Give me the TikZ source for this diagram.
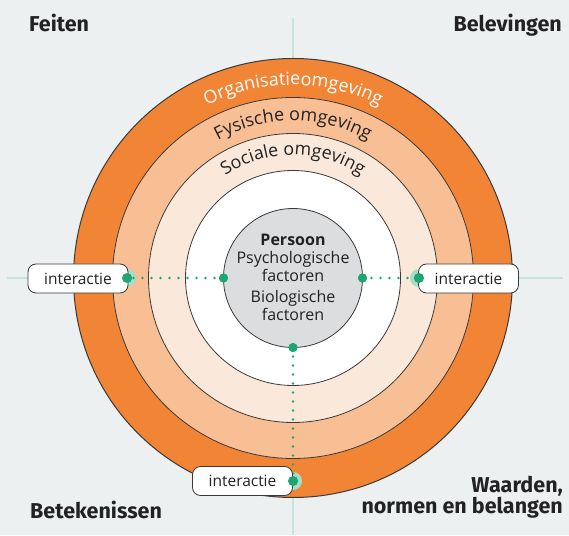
\documentclass[tikz,border=0pt]{standalone}
\usepackage{fontspec}
\setmainfont{Open Sans}
\newfontfamily\cornerfont{Fira Sans}
\usetikzlibrary{decorations.text}
\definecolor{bg}{HTML}{EDF0F1}
\definecolor{orgc}{HTML}{F28535}
\definecolor{fysc}{HTML}{F8BF94}
\definecolor{socc}{HTML}{FAE9DB}
\definecolor{perc}{HTML}{DCDDDF}
\definecolor{axisc}{HTML}{C8E4DB}
\definecolor{greenc}{HTML}{1EA672}
\definecolor{haloc}{HTML}{A8DCC6}
\definecolor{ink}{HTML}{222222}
\definecolor{edge}{HTML}{3A3A3A}
\begin{document}
\begin{tikzpicture}[x=1pt,y=1pt,
  ring/.style={draw=edge,line width=0.8pt},
  axisline/.style={draw=axisc,line width=1.5pt},
  corner/.style={font=\cornerfont\bfseries\fontsize{21.5}{25}\selectfont,text=ink,inner sep=0pt},
  inner/.style={anchor=base,text=ink,inner sep=0pt,font=\fontsize{16}{19}\selectfont},
  ibox/.style={draw=edge,line width=0.8pt,fill=white,rounded corners=8pt,minimum width=100pt,minimum height=29pt,inner sep=0pt,text=ink,font=\fontsize{15.5}{18}\selectfont},
  halo/.style={circle,fill=haloc,minimum size=18pt,inner sep=0pt},
  gdot/.style={circle,fill=greenc,minimum size=10pt,inner sep=0pt},
  gsdot/.style={circle,fill=greenc,minimum size=9pt,inner sep=0pt},
  dotline/.style={draw=greenc,line width=2.6pt,line cap=round,dash pattern=on 0pt off 9pt}]
\useasboundingbox (0,0) rectangle (569,535);
\fill[bg] (0,0) rectangle (569,535);
\coordinate (C) at (293,257);
\coordinate (vt) at (293,517);
\coordinate (vb) at (293,0);
\coordinate (hl) at (7,257);
\coordinate (hr) at (563,257);
\draw[axisline] (vt) -- (vb);
\draw[axisline] (hl) -- (hr);
% rings
\draw[ring,fill=orgc,line width=1pt] (C) circle[radius=219.5];
\draw[ring,fill=fysc] (C) circle[radius=180.5];
\draw[ring,fill=socc] (C) circle[radius=144.5];
\draw[ring,fill=white] (C) circle[radius=107.5];
\draw[ring,fill=perc] (C) circle[radius=69.5];
% arc texts
\path[shift={(293,257)},decorate,decoration={text along path,text align=center,
  text={|\fontsize{18}{21}\selectfont\color{white}|Organisatieomgeving}}]
  (150:193) arc[start angle=150,end angle=30,radius=193];
\path[shift={(293,257)},decorate,decoration={text along path,text align=center,
  text={|\fontsize{18}{21}\selectfont\color{ink}|Fysische omgeving}}]
  (150:157) arc[start angle=150,end angle=30,radius=157];
\path[shift={(293,257)},decorate,decoration={text along path,text align=center,
  text={|\fontsize{17.8}{21}\selectfont\color{ink}|Sociale omgeving}}]
  (150:123) arc[start angle=150,end angle=30,radius=123];
% person texts
\node[inner,font=\bfseries\fontsize{16}{19}\selectfont] (p1) at (293,289) {Persoon};
\node[inner] (p2) at (293,271) {Psychologische};
\node[inner] (p3) at (293,253) {factoren};
\node[inner] (p4) at (293,232) {Biologische};
\node[inner] (p5) at (293,214) {factoren};
% halos
\node[halo] (hL) at (127,257) {};
\node[halo] (hR) at (419,257) {};
\node[halo] (hB) at (293,54) {};
% dots
\node[gdot] (dL) at (127,257) {};
\node[gdot] (dR) at (419,257) {};
\node[gdot] (dB) at (293,54) {};
\node[gsdot] (iL) at (223.5,257) {};
\node[gsdot] (iR) at (362.5,257) {};
\node[gsdot] (iB) at (293,187.5) {};
% dotted connectors
\draw[dotline] (iL.center) -- (dL.center);
\draw[dotline] (iR.center) -- (dR.center);
\draw[dotline] (iB.center) -- (dB.center);
% boxes
\node[ibox] (bL) at (78,256.5) {interactie};
\node[ibox] (bR) at (468.5,256.5) {interactie};
\node[ibox] (bB) at (242.5,54) {interactie};
% redraw dots on top
\node[gdot] (dL2) at (dL) {};
\node[gdot] (dR2) at (dR) {};
\node[gdot] (dB2) at (dB) {};
\node[gsdot] (iL2) at (iL) {};
\node[gsdot] (iR2) at (iR) {};
\node[gsdot] (iB2) at (iB) {};
% corner labels
\node[corner,anchor=base west] (feiten) at (29,503) {Feiten};
\node[corner,anchor=base east] (belev) at (562,503) {Belevingen};
\node[corner,anchor=base west] (betek) at (30,17) {Betekenissen};
\node[corner,anchor=base east] (waard) at (563,43) {Waarden,};
\node[corner,anchor=base east] (norm) at (563,22) {normen en belangen};
\end{tikzpicture}
\end{document}
